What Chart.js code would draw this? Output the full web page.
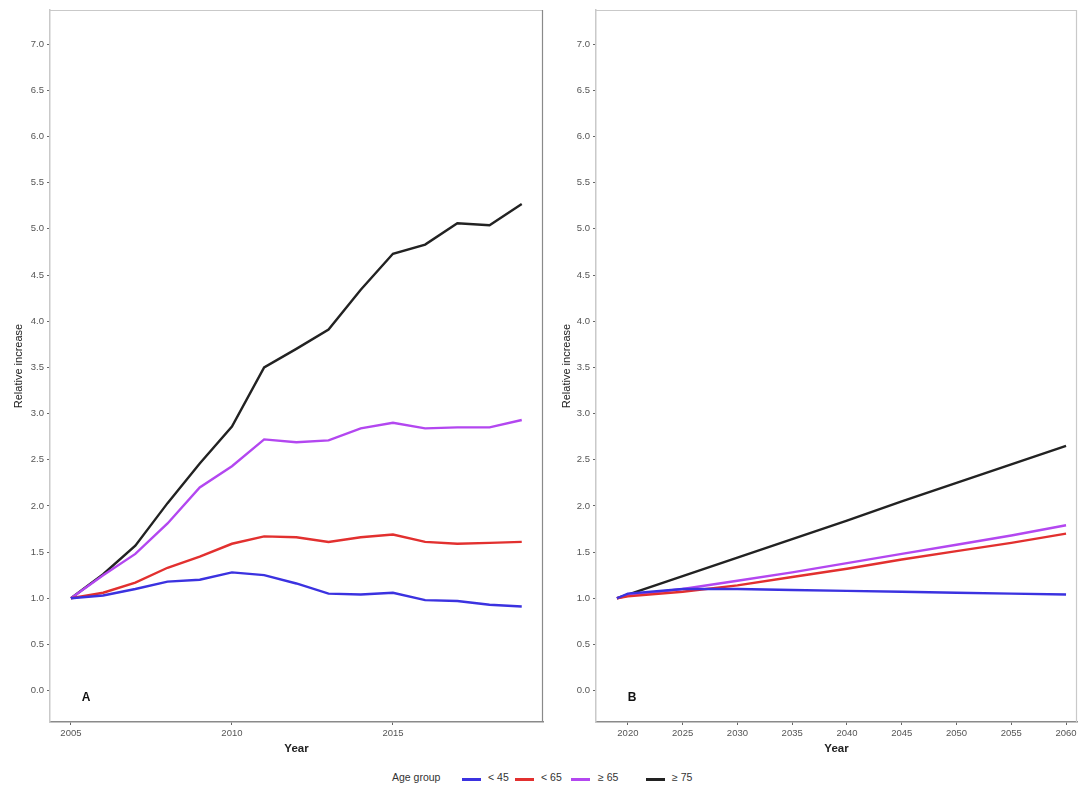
<!DOCTYPE html>
<html>
<head>
<meta charset="utf-8">
<script src="https://cdn.jsdelivr.net/npm/chart.js@4.4.0/dist/chart.umd.min.js"></script>
<style>
  html, body { margin: 0; padding: 0; background: #fff; }
  body { width: 1081px; height: 789px; position: relative; overflow: hidden; font-family: "Liberation Sans", Arial, sans-serif; }
  .cv { position: absolute; top: 0; }
  #legend { position: absolute; top: 770px; left: 0; width: 1081px; height: 18px; font-size: 10.5px; color: #333; }
  #legend span { position: absolute; top: 1px; white-space: nowrap; }
  #legend i { position: absolute; top: 8px; width: 19px; height: 2.5px; }
</style>
</head>
<body>
<canvas id="cA" class="cv" style="left:0px;width:548px;height:770px" width="548" height="770"></canvas>
<canvas id="cB" class="cv" style="left:548px;width:533px;height:770px" width="533" height="770"></canvas>
<div id="legend">
  <span style="left:392px">Age group</span>
  <i style="left:462px;background:#3b32e0"></i><span style="left:488px">&lt; 45</span>
  <i style="left:515px;background:#e2302f"></i><span style="left:541px">&lt; 65</span>
  <i style="left:571px;background:#b347f0"></i><span style="left:598px">≥ 65</span>
  <i style="left:646px;background:#222"></i><span style="left:672px">≥ 75</span>
</div>
<script>
// ---- Data ----
const seriesNames = ["< 45", "< 65", "≥ 65", "≥ 75"];
const seriesColors = ["#3b32e0", "#e2302f", "#b347f0", "#222222"];

// Panel A: observed 2005-2019
const yearsA = [2005,2006,2007,2008,2009,2010,2011,2012,2013,2014,2015,2016,2017,2018,2019];
const a_lt45 = [1.00,1.03,1.10,1.18,1.20,1.28,1.25,1.16,1.05,1.04,1.06,0.98,0.97,0.93,0.91];
const a_lt65 = [1.00,1.06,1.17,1.33,1.45,1.59,1.67,1.66,1.61,1.66,1.69,1.61,1.59,1.60,1.61];
const a_ge65 = [1.00,1.25,1.48,1.81,2.20,2.43,2.72,2.69,2.71,2.84,2.90,2.84,2.85,2.85,2.93];
const a_ge75 = [1.00,1.26,1.57,2.03,2.46,2.86,3.50,3.70,3.91,4.34,4.73,4.83,5.06,5.04,5.27];

// Panel B: projection 2019-2060
const yearsB = [2019,2020,2025,2030,2035,2040,2045,2050,2055,2060];
const b_lt45 = [1.00,1.05,1.10,1.10,1.09,1.08,1.07,1.06,1.05,1.04];
const b_lt65 = [1.00,1.02,1.07,1.14,1.23,1.32,1.42,1.51,1.60,1.70];
const b_ge65 = [1.00,1.03,1.10,1.19,1.28,1.38,1.48,1.58,1.68,1.79];
const b_ge75 = [1.00,1.04,1.24,1.44,1.64,1.84,2.05,2.25,2.45,2.65];

const yTickStep = 0.5;
const xTickStep = 5;

function mkDatasets(years, arrs) {
  return arrs.map((vals, i) => ({
    label: seriesNames[i],
    data: years.map((x, j) => ({ x: x, y: vals[j] })),
    borderColor: seriesColors[i],
    backgroundColor: seriesColors[i],
    borderWidth: 2.4,
    pointRadius: 0,
    tension: 0,
    fill: false
  }));
}

function panelPlugin(letter, rightColor) {
  return {
    id: 'panel' + letter,
    afterDraw(chart) {
      const { ctx, chartArea: a } = chart;
      ctx.save();
      ctx.lineWidth = 1.2;
      ctx.strokeStyle = '#c9c9c9';
      ctx.beginPath();
      ctx.moveTo(a.left, a.top + 0.5); ctx.lineTo(a.right, a.top + 0.5);
      ctx.stroke();
      ctx.strokeStyle = rightColor;
      ctx.beginPath();
      ctx.moveTo(a.right - 0.5, a.top); ctx.lineTo(a.right - 0.5, a.bottom);
      ctx.stroke();
      ctx.fillStyle = '#111';
      ctx.font = 'bold 12px "Liberation Sans", Arial, sans-serif';
      ctx.textBaseline = 'middle';
      ctx.textAlign = 'center';
      const yv = chart.scales.y;
      ctx.fillText(letter, a.left + 36, yv.getPixelForValue(0) + 7);
      ctx.restore();
    }
  };
}

function mkChart(id, years, arrs, xmin, xmax, yAxisW, padRight, letter, rightColor) {
  return new Chart(document.getElementById(id), {
    type: 'line',
    data: { datasets: mkDatasets(years, arrs) },
    options: {
      responsive: false,
      animation: false,
      layout: { padding: { top: 10, right: padRight, left: 0, bottom: 0 } },
      plugins: { legend: { display: false }, tooltip: { enabled: false } },
      scales: {
        x: {
          type: 'linear',
          min: xmin, max: xmax,
          afterFit(s) { s.height = 48; },
          border: { display: true, color: '#8a8a8a', width: 1.5 },
          grid: { display: true, drawOnChartArea: false, drawTicks: true, tickLength: 3, color: '#666', tickWidth: 1 },
          ticks: { stepSize: xTickStep, includeBounds: false, autoSkip: false, maxRotation: 0, padding: 3, color: '#555', font: { size: 9.5, family: '"Liberation Sans", Arial, sans-serif' }, callback: v => String(Math.round(v)) },
          title: { display: true, text: 'Year', color: '#222', font: { size: 11.5, weight: 'bold', family: '"Liberation Sans", Arial, sans-serif' }, padding: { top: 0, bottom: 14 } }
        },
        y: {
          type: 'linear',
          min: -0.34, max: 7.37,
          afterFit(s) { s.width = yAxisW; },
          border: { display: true, color: '#c9c9c9', width: 1.5 },
          grid: { display: true, drawOnChartArea: false, drawTicks: true, tickLength: 3, color: '#666', tickWidth: 1 },
          ticks: { stepSize: yTickStep, includeBounds: false, padding: 3, color: '#555', font: { size: 9.5, family: '"Liberation Sans", Arial, sans-serif' }, callback: v => Number(v).toFixed(1) },
          title: { display: true, text: 'Relative increase', color: '#222', font: { size: 11, family: '"Liberation Sans", Arial, sans-serif' }, padding: { top: 12, bottom: 0 } }
        }
      }
    },
    plugins: [panelPlugin(letter, rightColor)]
  });
}

mkChart('cA', yearsA, [a_lt45, a_lt65, a_ge65, a_ge75], 2004.35, 2019.66, 50, 5, 'A', '#8a8a8a');
mkChart('cB', yearsB, [b_lt45, b_lt65, b_ge65, b_ge75], 2017.09, 2061.0, 48, 4, 'B', '#c9c9c9');
</script>
</body>
</html>
